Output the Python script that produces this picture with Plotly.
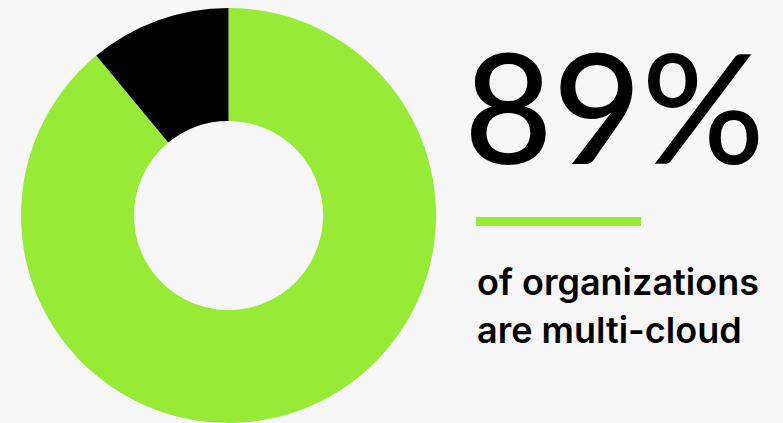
import plotly.graph_objects as go

labels = ["Multi-cloud", "Not multi-cloud"]
values = [89, 11]
colors = ["#97EA36", "#000000"]
headline = "89%"
caption_lines = ["of organizations", "are multi-cloud"]

W, H = 783, 423
MT = 8
PH = H - MT

def px(x):
    return x / W

def py(y):
    return (H - y) / PH

fig = go.Figure()
fig.add_trace(go.Pie(
    labels=labels, values=values, hole=0.456, sort=False,
    direction="clockwise", rotation=0,
    marker=dict(colors=colors, line=dict(width=0)),
    textinfo="none", hoverinfo="label+percent", showlegend=False,
    domain=dict(x=[px(21), px(436)], y=[0, 1]),
))

fig.add_annotation(text=headline, x=px(462), y=py(105), xref="paper", yref="paper",
                   xanchor="left", yanchor="middle", showarrow=False,
                   font=dict(family="Lato", size=153, color="#000000", weight=500))
fig.add_shape(type="rect", xref="paper", yref="paper",
              x0=px(476), x1=px(641), y0=py(226), y1=py(217),
              fillcolor="#97EA36", line=dict(width=0))
for i, line in enumerate(caption_lines):
    fig.add_annotation(text=line, x=px(475), y=py(282 + 48 * i), xref="paper", yref="paper",
                       xanchor="left", yanchor="middle", showarrow=False,
                       font=dict(family="Inter", size=36, color="#000000", weight=600))

fig.update_layout(width=W, height=H, margin=dict(l=0, r=0, t=MT, b=0),
                  paper_bgcolor="#F7F7F7", plot_bgcolor="#F7F7F7")
fig.write_html("out.html")
